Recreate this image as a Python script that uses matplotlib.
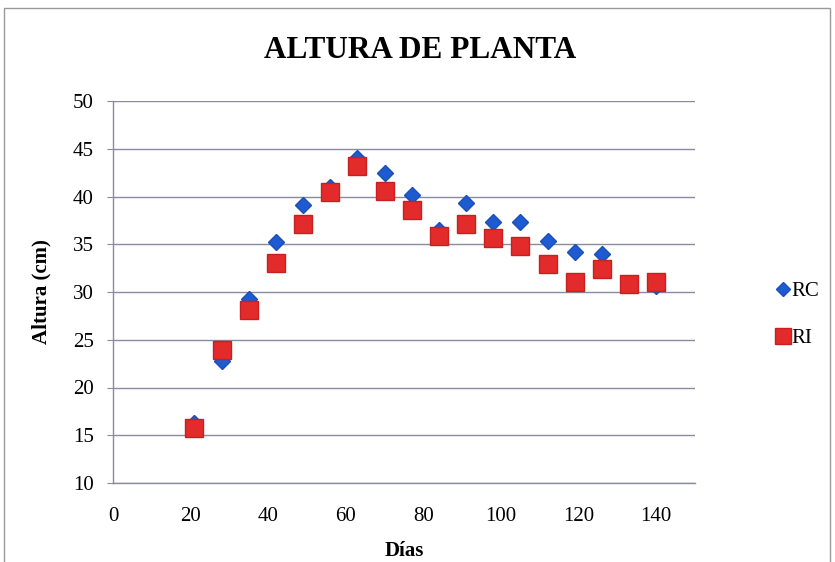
import numpy as np
import matplotlib.pyplot as plt
from matplotlib.patches import Rectangle

plt.rcParams['font.family'] = ['Liberation Serif', 'DejaVu Serif']

# dias de muestreo
dias = [21, 28, 35, 42, 49, 56, 63, 70, 77, 84, 91, 98, 105, 112, 119, 126, 133, 140]
# altura (cm)
rc = [16.3, 22.8, 29.3, 35.2, 39.1, 41.0, 44.0, 42.5, 40.2, 36.5, 39.3, 37.3, 37.3, 35.3, 34.2, 34.0, 30.8, 30.6]
ri = [15.8, 23.9, 28.1, 33.0, 37.1, 40.5, 43.2, 40.6, 38.6, 35.9, 37.1, 35.7, 34.8, 32.9, 31.0, 32.4, 30.8, 31.0]

fig = plt.figure(figsize=(8.35, 5.62), dpi=100)
fig.patches.append(Rectangle((4 / 835, -0.01), 826 / 835, 1 - 8 / 562 + 0.01,
                             transform=fig.transFigure, fill=False,
                             edgecolor='#9a9a9a', linewidth=1.0))

ax = fig.add_axes([113 / 835, 1 - 483 / 562, (695 - 113) / 835, (483 - 101) / 562])

ax.plot(dias, rc, linestyle='none', marker='D', markersize=8,
        color='#1f5bd0', markeredgecolor='#1a4fb8', label='RC', zorder=3)
ax.plot(dias, ri, linestyle='none', marker='s', markersize=12.5,
        color='#e32b2b', markeredgecolor='#c62020', label='RI', zorder=4)

ax.set_xlim(0, 150)
ax.set_ylim(10, 50)
ax.set_xticks(np.arange(0, 141, 20))
ax.set_yticks(np.arange(10, 51, 5))
ax.yaxis.grid(True, color='#8a8aa0', linewidth=1.0)
ax.set_axisbelow(True)

for s in ['top', 'right']:
    ax.spines[s].set_visible(False)
for s in ['left', 'bottom']:
    ax.spines[s].set_color('#8a8aa0')
    ax.spines[s].set_linewidth(1.0)

ax.tick_params(axis='x', length=0, pad=17, labelsize=15)
ax.tick_params(axis='y', length=4, color='#8a8aa0', pad=10, labelsize=15)

ax.set_xlabel('Días', fontsize=15, fontweight='bold', labelpad=11)
ax.set_ylabel('Altura (cm)', fontsize=15, fontweight='bold', labelpad=15)

fig.text(0.503, 1 - 50 / 562, 'ALTURA DE PLANTA', ha='center', va='center',
         fontsize=22.5, fontweight='bold')

fig.legend(loc='center left', bbox_to_anchor=(767 / 835, 1 - 315 / 562),
           frameon=False, handlelength=0.55, handletextpad=0.1,
           labelspacing=1.3, fontsize=15, borderpad=0, markerscale=0.95)

fig.savefig('out.png', dpi=100)
